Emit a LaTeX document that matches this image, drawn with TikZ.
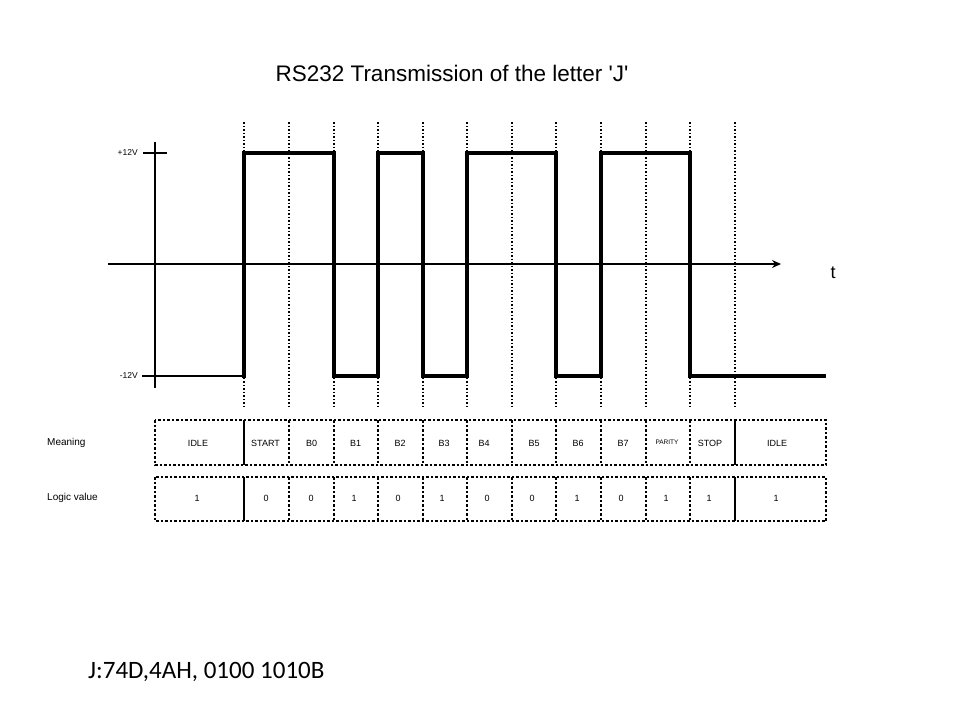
\documentclass[tikz,border=0pt]{standalone}
\usepackage{fontspec}
\setmainfont{Liberation Sans}
\newfontfamily\calfont{Carlito}
\usetikzlibrary{arrows.meta}
\begin{document}
\begin{tikzpicture}[x=1pt,y=-1pt,
  guide/.style={line width=1.3pt,dash pattern=on 1.5pt off 2pt,black},
  dashcell/.style={line width=1.3pt,dash pattern=on 2.5pt off 2pt,black},
  solidcell/.style={line width=1.3pt,black},
  axis/.style={line width=1.1pt,black},
  signal/.style={line width=3.8pt,black,line join=miter},
  small/.style={font=\fontsize{9}{11}\selectfont,inner sep=0pt},
  tiny/.style={font=\fontsize{6.5}{8}\selectfont,inner sep=0pt},
  volt/.style={font=\fontsize{8.5}{10}\selectfont,inner sep=0pt,anchor=east},
  lbl/.style={font=\fontsize{10}{12}\selectfont,inner sep=0pt,anchor=west}]
\useasboundingbox (0,0) rectangle (960,720);
\fill[white] (0,0) rectangle (960,720);
% title
\node[font=\fontsize{22.5}{26}\selectfont,inner sep=0pt] (title) at (452,73) {RS232 Transmission of the letter \textquotesingle J\textquotesingle};
% guides
\foreach \gx in {244,289,334,378,423,467,512,556,601,646,690,735}
  \draw[guide] (\gx,122) -- (\gx,408);
% axes
\coordinate (xa0) at (108,264);
\coordinate (xa1) at (781,264);
\draw[axis,-{Stealth[length=9pt,width=8pt]}] (xa0) -- (xa1);
\coordinate (ya0) at (155,142);
\coordinate (ya1) at (155,388);
\draw[axis] (ya0) -- (ya1);
\coordinate (tp0) at (143,153);
\coordinate (tp1) at (167,153);
\draw[axis] (tp0) -- (tp1);
\coordinate (tn0) at (142,376);
\coordinate (tn1) at (244,376);
\draw[axis] (tn0) -- (tn1);
\node[volt] (vp) at (138,153) {+12V};
\node[volt] (vn) at (138,376) {-12V};
\node[font=\fontsize{18}{20}\selectfont,inner sep=0pt] (t) at (833,273) {t};
% signal
\draw[signal] (244,377.9) -- (244,153) -- (334,153) -- (334,376) -- (378,376) -- (378,153) -- (423,153) -- (423,376) -- (467,376) -- (467,153) -- (556,153) -- (556,376) -- (601,376) -- (601,153) -- (690,153) -- (690,376) -- (826,376);
% table
\foreach \ya/\yb in {420/465,477/521}{
  \draw[dashcell] (155,\ya) rectangle (826,\yb);
  \foreach \gx in {289,334,378,423,467,512,556,601,646,690}
    \draw[dashcell] (\gx,\ya) -- (\gx,\yb);
  \draw[solidcell] (244,\ya) -- (244,\yb);
  \draw[solidcell] (735,\ya) -- (735,\yb);
}
\node[lbl] (mean) at (47,443) {Meaning};
\node[lbl] (logic) at (47,498) {Logic value};
\node[small] (m0) at (198,443) {IDLE};
\node[small] (m1) at (265.5,443) {START};
\node[small] (m2) at (311.5,443) {B0};
\node[small] (m3) at (355.5,443) {B1};
\node[small] (m4) at (400,443) {B2};
\node[small] (m5) at (444,443) {B3};
\node[small] (m6) at (484,443) {B4};
\node[small] (m7) at (534,443) {B5};
\node[small] (m8) at (578,443) {B6};
\node[small] (m9) at (623,443) {B7};
\node[tiny] (m10) at (667,442) {PARITY};
\node[small] (m11) at (710,443) {STOP};
\node[small] (m12) at (777,443) {IDLE};
\node[small] (l0) at (197,498) {1};
\node[small] (l1) at (266,498) {0};
\node[small] (l2) at (311,498) {0};
\node[small] (l3) at (354,498) {1};
\node[small] (l4) at (398,498) {0};
\node[small] (l5) at (442,498) {1};
\node[small] (l6) at (487,498) {0};
\node[small] (l7) at (532,498) {0};
\node[small] (l8) at (577,498) {1};
\node[small] (l9) at (621,498) {0};
\node[small] (l10) at (666,498) {1};
\node[small] (l11) at (709,498) {1};
\node[small] (l12) at (776,498) {1};
% note
\node[font=\calfont\fontsize{25}{28}\selectfont,inner sep=0pt,anchor=west] (note) at (88,672) {J:74D,4AH, 0100 1010B};
\end{tikzpicture}
\end{document}
